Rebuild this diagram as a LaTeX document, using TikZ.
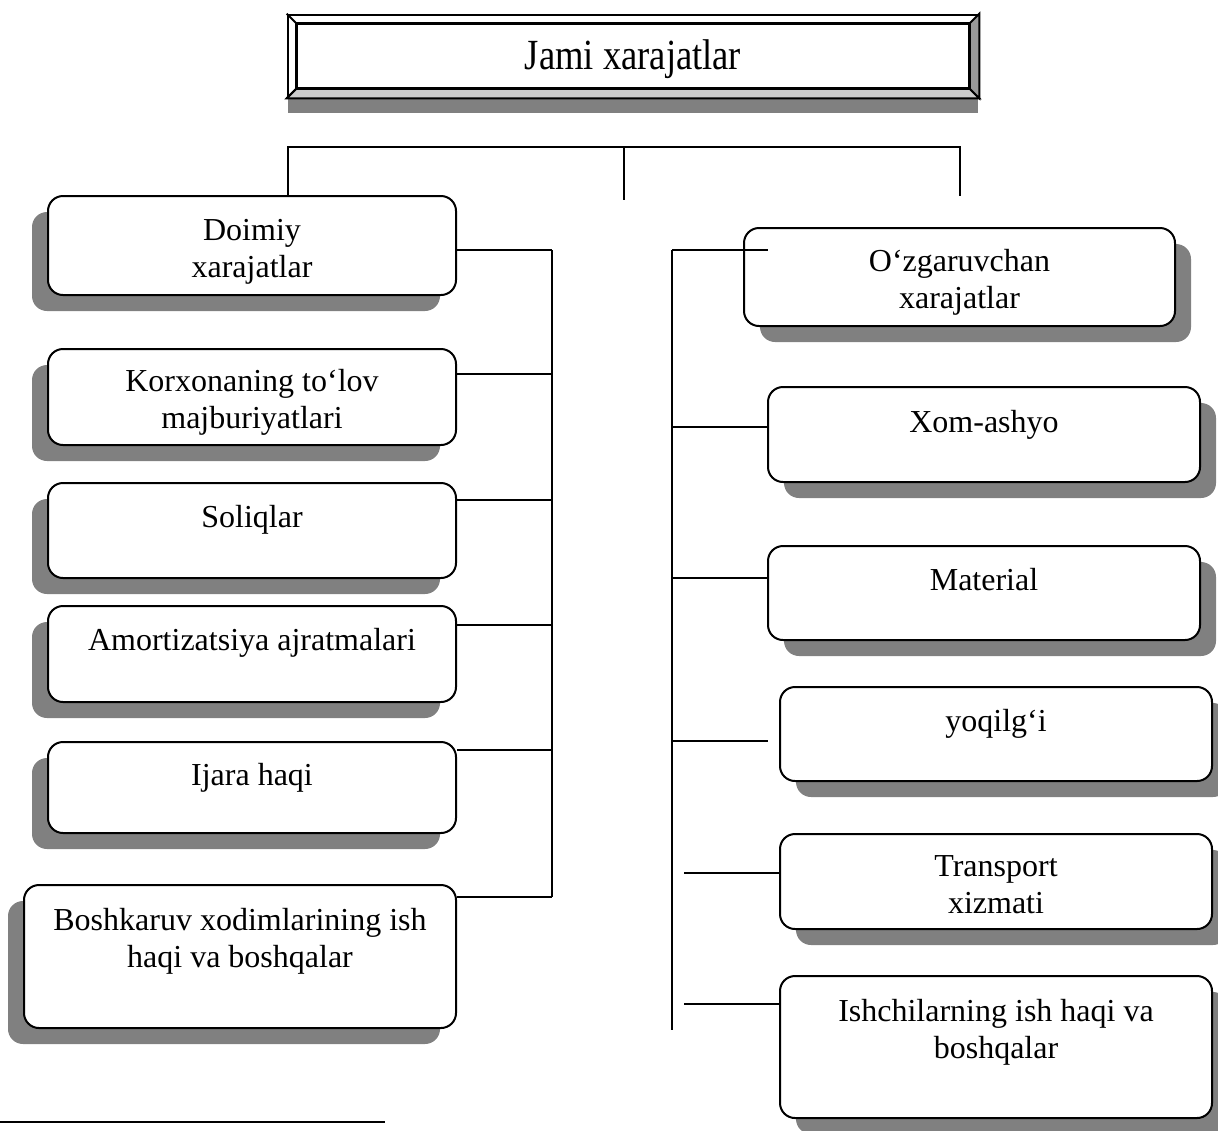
\documentclass[tikz,border=0pt]{standalone}
\usepackage{fontspec}
\setmainfont{Liberation Serif}
\usetikzlibrary{shadows,calc}

\begin{document}
\begin{tikzpicture}[
  x=0.5pt, y=-0.5pt,
  line width=1pt,
  every node/.style={font=\fontsize{16}{18.5}\selectfont},
  costbox/.style={
    draw, fill=white, rounded corners=7.5pt,
    minimum width=204pt, minimum height=48pt, inner sep=0pt
  },
  shadowleft/.style={drop shadow={shadow xshift=-8pt, shadow yshift=-8pt,
    fill=black!50, opacity=1}},
  shadowright/.style={drop shadow={shadow xshift=8pt, shadow yshift=-8pt,
    fill=black!50, opacity=1}},
  boxtext/.style={anchor=base, align=center, inner sep=0pt}
]
  \useasboundingbox (0,0) rectangle (1218,1130);

  % title with bevelled frame
  \node[draw, line width=1.3pt, fill=white, minimum width=345pt, minimum height=41pt,
    inner sep=0pt, text depth=1pt,
    drop shadow={shadow xshift=0pt, shadow yshift=-8pt, fill=black!50, opacity=1},
    font=\fontsize{21.5}{24}\selectfont] (jami) at (633,56) {\scalebox{0.85}[1]{Jami xarajatlar}};
  \coordinate (jaminw) at ($(jami.north west)+(5pt,-5pt)$);
  \coordinate (jamine) at ($(jami.north east)+(-5pt,-5pt)$);
  \coordinate (jamisw) at ($(jami.south west)+(5pt,5pt)$);
  \coordinate (jamise) at ($(jami.south east)+(-5pt,5pt)$);
  \filldraw[fill=black!20] (jami.south west) -- (jami.south east) -- (jamise) -- (jamisw) -- cycle;
  \filldraw[fill=black!40] (jami.north east) -- (jami.south east) -- (jamise) -- (jamine) -- cycle;
  \draw (jami.north west) -- (jaminw) (jami.south west) -- (jamisw);
  \draw[line width=1.3pt] (jaminw) rectangle (jamise);

  % left branch
  \node[costbox, shadowleft, minimum height=49.5pt] (doimiy) at (252,245.5) {};
  \node[costbox, shadowleft] (korxona) at (252,397) {};
  \node[costbox, shadowleft, minimum height=47.5pt] (soliq) at (252,530.5) {};
  \node[costbox, shadowleft] (amort) at (252,654) {};
  \node[costbox, shadowleft, minimum height=45.5pt] (ijara) at (252,787.5) {};
  \node[costbox, shadowleft, minimum width=216pt, minimum height=71.5pt] (boshkaruv) at (240,956.5) {};

  \node[boxtext] (doimiyT) at (252,277) {Doimiy\\xarajatlar};
  \node[boxtext] (korxonaT) at (252,428) {Korxonaning to‘lov\\majburiyatlari};
  \node[boxtext] (soliqT) at (252,527) {Soliqlar};
  \node[boxtext] (amortT) at (252,650) {Amortizatsiya ajratmalari};
  \node[boxtext] (ijaraT) at (252,785) {Ijara haqi};
  \node[boxtext] (boshkaruvT) at (240,967) {Boshkaruv xodimlarining ish\\haqi va boshqalar};

  % right branch
  \node[costbox, shadowright, minimum width=215.5pt, minimum height=49pt] (ozgar) at (959.5,277) {};
  \node[costbox, shadowright, minimum width=216pt, minimum height=47.5pt] (xomashyo) at (984,434.5) {};
  \node[costbox, shadowright, minimum width=216pt, minimum height=47pt] (material) at (984,593) {};
  \node[costbox, shadowright, minimum width=216pt, minimum height=47pt] (yoqilgi) at (996,734) {};
  \node[costbox, shadowright, minimum width=216pt, minimum height=47.5pt] (transport) at (996,881.5) {};
  \node[costbox, shadowright, minimum width=216pt, minimum height=71pt] (ishchi) at (996,1047) {};

  \node[boxtext] (ozgarT) at (959.5,308) {O‘zgaruvchan\\xarajatlar};
  \node[boxtext] (xomashyoT) at (984,432) {Xom-ashyo};
  \node[boxtext] (materialT) at (984,590) {Material};
  \node[boxtext] (yoqilgiT) at (996,731) {yoqilg‘i};
  \node[boxtext] (transportT) at (996,913) {Transport\\xizmati};
  \node[boxtext] (ishchiT) at (996,1058) {Ishchilarning ish haqi va\\boshqalar};

  % connectors
  \coordinate (busL) at (288,147);
  \coordinate (busR) at (960,147);
  \coordinate (stubM) at (624,200);
  \coordinate (stubR) at (960,196);
  \draw (busL |- doimiy.north) -- (busL) -- (busR) -- (stubR);
  \draw (stubM |- busL) -- (stubM);

  \coordinate (spineLtop) at (552,250);
  \coordinate (spineLbot) at (552,897);
  \draw (spineLtop) -- (spineLbot);
  \draw (doimiy.east |- spineLtop) -- (spineLtop);
  \draw (korxona.east |- 0,374) -- (spineLtop |- 0,374);
  \draw (soliq.east |- 0,500) -- (spineLtop |- 0,500);
  \draw (amort.east |- 0,625) -- (spineLtop |- 0,625);
  \draw (ijara.east |- 0,750) -- (spineLtop |- 0,750);
  \draw (boshkaruv.east |- spineLbot) -- (spineLbot);

  \coordinate (spineRtop) at (672,250);
  \coordinate (spineRbot) at (672,1030);
  \draw (spineRtop) -- (spineRbot);
  \draw (spineRtop) -- (768,250);
  \draw (spineRtop |- 0,427) -- (xomashyo.west |- 0,427);
  \draw (spineRtop |- 0,578) -- (material.west |- 0,578);
  \draw (spineRtop |- 0,741) -- (768,741);
  \draw (684,873) -- (transport.west |- 0,873);
  \draw (684,1004) -- (ishchi.west |- 0,1004);

  % footnote rule
  \draw (0,1122) -- (385,1122);
\end{tikzpicture}
\end{document}
